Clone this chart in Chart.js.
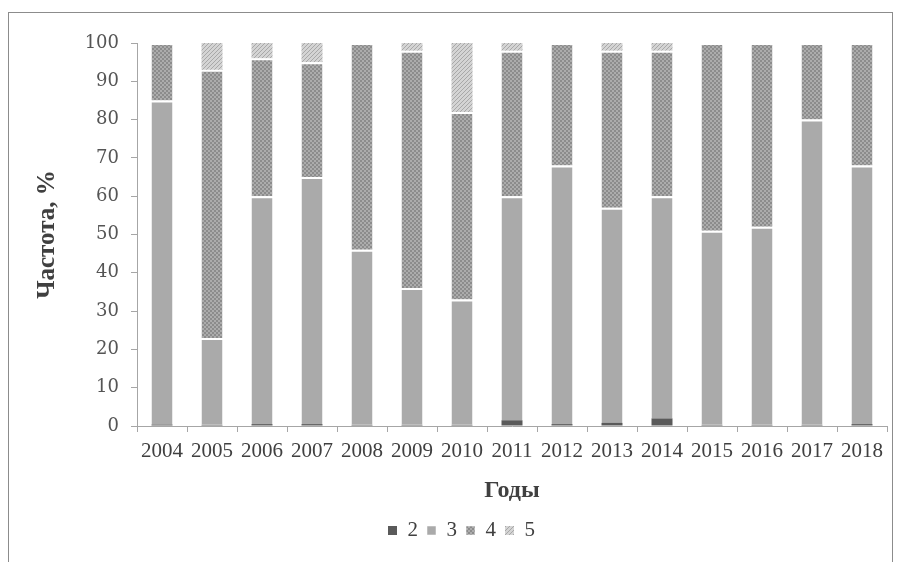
<!DOCTYPE html>
<html>
<head>
<meta charset="utf-8">
<script src="https://cdn.jsdelivr.net/npm/chart.js@4/dist/chart.umd.min.js"></script>
<style>
  html, body { margin: 0; padding: 0; background: #fff; }
  #wrap { position: relative; width: 900px; height: 562px; overflow: hidden; }
  #frame { position: absolute; left: 8px; top: 12px; width: 885px; height: 600px;
           border: 1px solid #8c8c8c; box-sizing: border-box; pointer-events: none; }
  canvas { position: absolute; left: 0; top: 0; }
</style>
</head>
<body>
<div id="wrap">
  <canvas id="chart" width="900" height="562"></canvas>
  <div id="frame"></div>
</div>
<script>
// Years and grade shares (%) per year
const years = ['2004','2005','2006','2007','2008','2009','2010','2011','2012','2013','2014','2015','2016','2017','2018'];
const grade2 = [0.4, 0.3, 0.5, 0.5, 0.3, 0.3, 0.3, 1.5, 0.5, 0.8, 2.0, 0.3, 0.3, 0.3, 0.5];
const grade3 = [84.6, 22.7, 59.5, 64.5, 45.7, 35.7, 32.7, 58.5, 67.5, 56.2, 58.0, 50.7, 51.7, 79.7, 67.5];
const grade4 = [15, 70, 36, 30, 54, 62, 49, 38, 32, 41, 38, 49, 48, 20, 32];
const grade5 = [0, 7, 4, 5, 0, 2, 18, 2, 0, 2, 2, 0, 0, 0, 0];
const seriesNames = ['2', '3', '4', '5'];
const yTicks = [0, 10, 20, 30, 40, 50, 60, 70, 80, 90, 100];

function checkerPattern() {
  const c = document.createElement('canvas');
  c.width = 4; c.height = 4;
  const g = c.getContext('2d');
  g.fillStyle = '#acacac'; g.fillRect(0, 0, 4, 4);
  g.fillStyle = '#8c8c8c';
  g.fillRect(0, 0, 2, 2); g.fillRect(2, 2, 2, 2);
  return g.createPattern(c, 'repeat');
}
function hatchPattern() {
  const c = document.createElement('canvas');
  c.width = 4; c.height = 4;
  const g = c.getContext('2d');
  g.fillStyle = '#d4d4d4'; g.fillRect(0, 0, 4, 4);
  g.fillStyle = '#a8a8a8';
  for (let i = 0; i < 4; i++) g.fillRect(3 - i, i, 1, 1);
  return g.createPattern(c, 'repeat');
}

// nudges the legend row to the right of the canvas centre
const legendShift = {
  id: 'legendShift',
  afterLayout(chart) {
    const lg = chart.legend;
    if (lg) { lg.left += 18; lg.right += 18; }
  }
};

const serif = '"Liberation Serif", "Times New Roman", serif';
const sep = { top: 2, left: 0, right: 0, bottom: 0 };

new Chart(document.getElementById('chart'), {
  type: 'bar',
  data: {
    labels: years,
    datasets: [
      { label: seriesNames[0], data: grade2, backgroundColor: '#5a5a5a', borderColor: '#ffffff', borderWidth: 0 },
      { label: seriesNames[1], data: grade3, backgroundColor: '#aaaaaa', borderColor: '#ffffff', borderWidth: sep },
      { label: seriesNames[2], data: grade4, backgroundColor: checkerPattern(), borderColor: '#ffffff', borderWidth: sep },
      { label: seriesNames[3], data: grade5, backgroundColor: hatchPattern(), borderColor: '#ffffff', borderWidth: 0 }
    ]
  },
  plugins: [legendShift],
  options: {
    responsive: false,
    animation: false,
    devicePixelRatio: 1,
    layout: { padding: { top: 43, left: 0, right: 13, bottom: 11 } },
    datasets: { bar: { barPercentage: 0.42, categoryPercentage: 1.0, borderSkipped: 'bottom' } },
    plugins: {
      tooltip: { enabled: false },
      legend: {
        position: 'bottom',
        labels: {
          boxWidth: 9, boxHeight: 9, padding: 9,
          color: '#404040',
          font: { family: serif, size: 21 }
        }
      }
    },
    scales: {
      x: {
        stacked: true,
        grid: { display: true, drawOnChartArea: false, tickLength: 6, color: '#a6a6a6', offset: true },
        border: { color: '#a6a6a6', width: 1 },
        ticks: { color: '#404040', padding: 7, maxRotation: 0, autoSkip: false, font: { family: serif, size: 21 } },
        title: { display: true, text: 'Годы', color: '#404040', padding: { top: 4, bottom: 6 },
                 font: { family: serif, size: 24, weight: 'bold' } },
        afterFit(scale) { scale.height = 85; }
      },
      y: {
        stacked: true,
        min: 0, max: 100,
        afterBuildTicks(scale) { scale.ticks = yTicks.map(v => ({ value: v })); },
        grid: { display: true, drawOnChartArea: false, tickLength: 6, color: '#a6a6a6' },
        border: { color: '#a6a6a6', width: 1 },
        ticks: { color: '#555555', padding: 12, font: { family: '"DejaVu Serif", serif', size: 18 } },
        title: { display: true, text: 'Частота, %', color: '#404040', padding: { top: 33, bottom: 0 },
                 font: { family: serif, size: 25, weight: 'bold' } },
        afterFit(scale) { scale.width = 137; }
      }
    }
  }
});
</script>
</body>
</html>
